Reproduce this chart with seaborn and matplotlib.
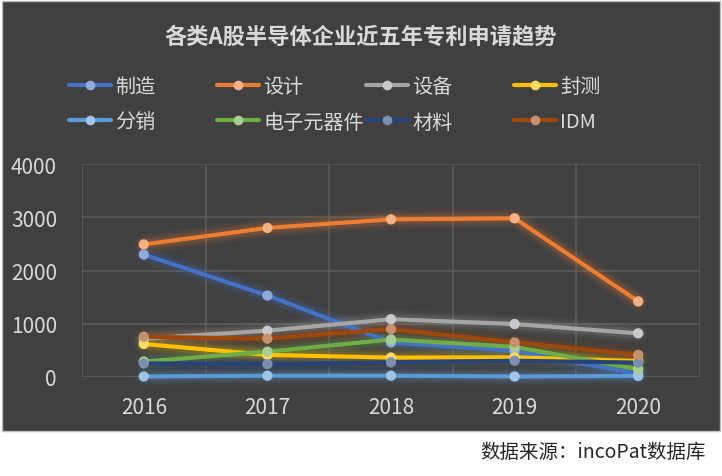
import numpy as np
import pandas as pd
import matplotlib
matplotlib.use("Agg")
import matplotlib.pyplot as plt
import matplotlib.colors as mcolors
from matplotlib.patches import Rectangle
from matplotlib.lines import Line2D
import seaborn as sns

# data
years = [2016, 2017, 2018, 2019, 2020]
categories = ["制造", "设计", "设备", "封测", "分销", "电子元器件", "材料", "IDM"]
zhizao = [2300, 1530, 650, 490, 60]
sheji = [2490, 2800, 2960, 2980, 1420]
shebei = [720, 870, 1085, 995, 820]
fengce = [620, 415, 365, 370, 300]
fenxiao = [10, 25, 25, 10, 20]
dianzi = [290, 475, 705, 565, 145]
cailiao = [255, 240, 275, 305, 270]
idm = [755, 720, 900, 650, 415]
colors = ["#4472C4", "#ED7D31", "#A5A5A5", "#FFC000",
          "#5B9BD5", "#70AD47", "#264478", "#9E480E"]

series = [zhizao, sheji, shebei, fengce, fenxiao, dianzi, cailiao, idm]
df = pd.DataFrame([
    {"年份": y, "专利数": v, "类别": c}
    for c, vals in zip(categories, series)
    for y, v in zip(years, vals)
])

def lighten(c, amt=0.4):
    r = np.array(mcolors.to_rgb(c))
    return tuple(r + (1 - r) * amt)

palette = dict(zip(categories, colors))
light_palette = {c: lighten(col) for c, col in palette.items()}

sns.set_style("dark")
plt.rcParams['font.family'] = ['Noto Sans CJK SC', 'DejaVu Sans']

bg = "#404040"
txt = "#D9D9D9"

fig = plt.figure(figsize=(7.22, 4.77), dpi=100)
fig.patch.set_facecolor("white")
fig.patches.append(Rectangle((2 / 722, 1 - 432 / 477), 718 / 722, 430 / 477,
                             transform=fig.transFigure, facecolor=bg,
                             edgecolor="#BFBFBF", linewidth=1, zorder=-5))

ax = fig.add_axes([82 / 722, 1 - 378 / 477, 618 / 722, 213 / 477])
ax.set_facecolor(bg)
ax.set_zorder(2)

# soft glow under each line
for lw, a in [(14, 0.06), (10, 0.09), (7, 0.13)]:
    sns.lineplot(data=df, x="年份", y="专利数", hue="类别", palette=palette,
                 linewidth=lw, alpha=a, legend=False, ax=ax, sort=False,
                 solid_capstyle="round")

sns.lineplot(data=df, x="年份", y="专利数", hue="类别", palette=palette,
             linewidth=3, legend=False, ax=ax, sort=False)
sns.scatterplot(data=df, x="年份", y="专利数", hue="类别", palette=light_palette,
                s=55, edgecolor="none", legend=False, ax=ax, zorder=5)

# points at 0 must not be cut off
for ln in ax.lines:
    ln.set_clip_on(False)
for coll in ax.collections:
    coll.set_clip_on(False)

ax.set_xlim(2015.5, 2020.5)
ax.set_ylim(0, 4000)
ax.set_xticks(years)
ax.set_xticklabels([str(y) for y in years])
ax.set_yticks([0, 1000, 2000, 3000, 4000])
ax.set_xticks(np.arange(2015.5, 2021, 1), minor=True)
ax.grid(False)
ax.grid(axis="y", which="major", color="#5A5A5A", linewidth=1.2)
ax.grid(axis="x", which="minor", color="#5A5A5A", linewidth=1.2)
ax.tick_params(axis="both", which="both", length=0, labelsize=15, colors=txt)
ax.tick_params(axis="y", pad=18)
ax.tick_params(axis="x", pad=14)
ax.set_xlabel("")
ax.set_ylabel("")
for s in ax.spines.values():
    s.set_visible(False)

fig.text(361 / 722, 1 - 37 / 477, "各类A股半导体企业近五年专利申请趋势",
         ha="center", va="center", fontsize=16, fontweight="bold", color=txt)

# legend: 4 columns, 2 rows, evenly spaced
col_x = [69, 217, 366, 514]
for i, x0 in enumerate(col_x):
    handles = []
    for j in (i, i + 4):
        handles.append(Line2D([0], [0], color=colors[j], linewidth=3, marker="o",
                              markersize=7, markerfacecolor=lighten(colors[j]),
                              markeredgecolor="none", label=categories[j]))
    fig.legend(handles=handles, loc="upper left",
               bbox_to_anchor=(x0 / 722, 1 - 77 / 477),
               frameon=False, fontsize=14.5, labelcolor=txt,
               handlelength=2.1, handletextpad=0.2, labelspacing=0.72,
               borderpad=0, borderaxespad=0)

fig.text(706 / 722, 1 - 452 / 477, "数据来源：incoPat数据库",
         ha="right", va="center", fontsize=14, color="#262626")

fig.savefig("out.png", dpi=100, facecolor=fig.get_facecolor())
